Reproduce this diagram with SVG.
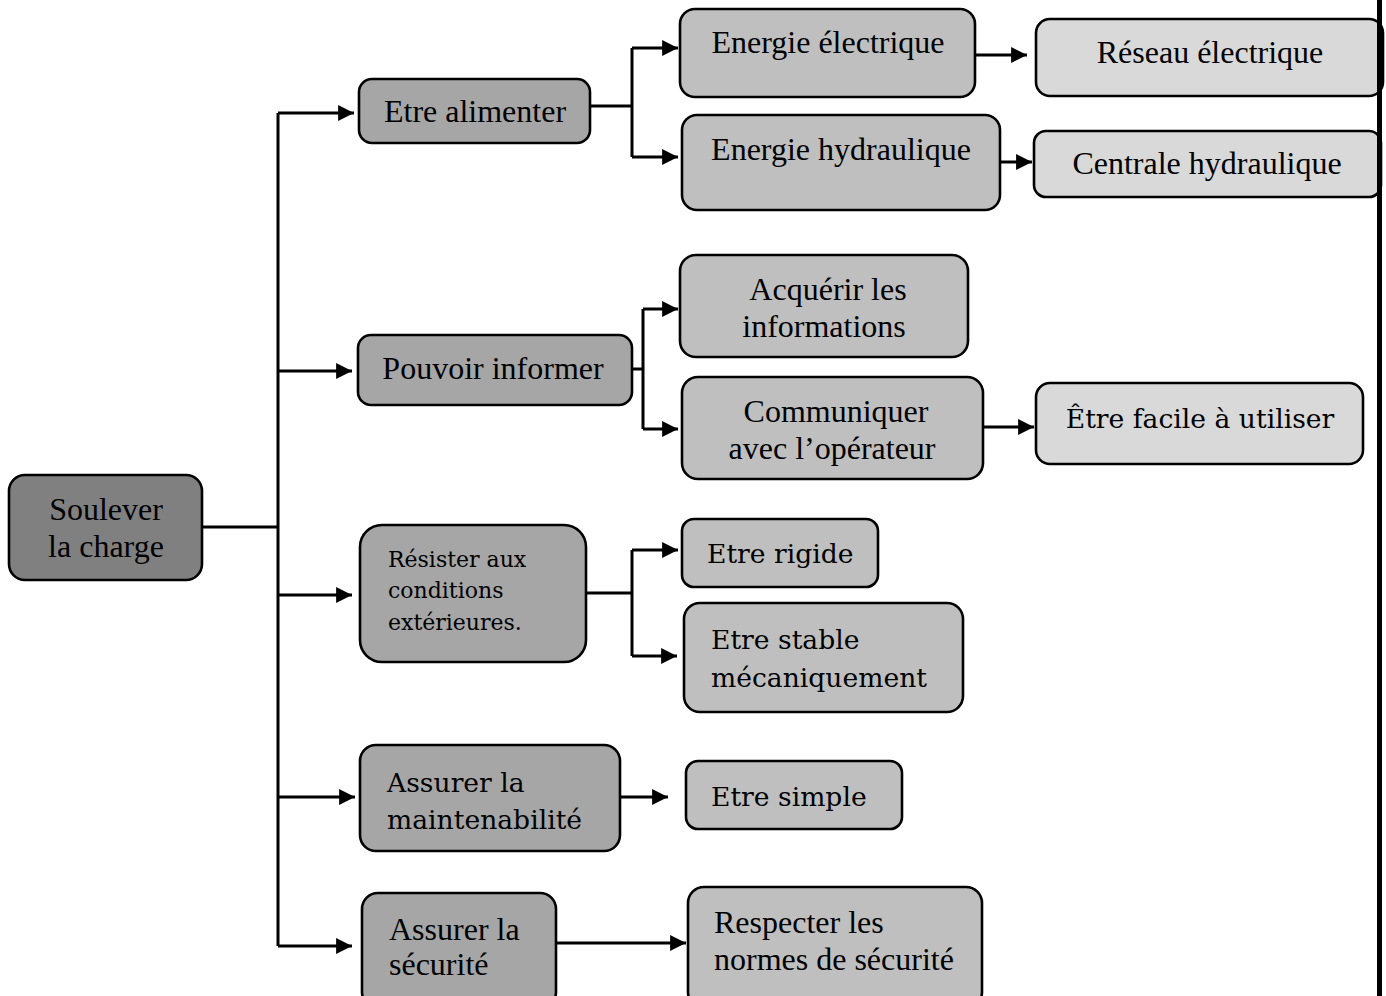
<svg xmlns="http://www.w3.org/2000/svg" width="1386" height="996" viewBox="0 0 1386 996">
  <defs>
    <marker id="arrow" viewBox="0 0 10 10" refX="10" refY="5" markerWidth="5.3" markerHeight="5.3" markerUnits="strokeWidth" orient="auto">
      <path d="M0,0 L10,5 L0,10 z" fill="#000"/>
    </marker>
    <style>
      .box { stroke: #000; stroke-width: 2.6; }
      .root { fill: #808080; }
      .l1 { fill: #a6a6a6; }
      .l2 { fill: #bfbfbf; }
      .l3 { fill: #d9d9d9; }
      .tm { font-family: "Liberation Serif", "Times New Roman", serif; font-size: 32px; fill: #000; }
      .cb { font-family: "DejaVu Serif", "Liberation Serif", serif; font-size: 26.6px; fill: #000; }
      .cbs { font-family: "DejaVu Serif", "Liberation Serif", serif; font-size: 22px; fill: #000; }
      .mid { text-anchor: middle; }
      .wire { fill: none; stroke: #000; stroke-width: 3; }
      .arr { fill: none; stroke: #000; stroke-width: 3; marker-end: url(#arrow); }
    </style>
  </defs>
  <rect width="1386" height="996" fill="#fff"/>

  <!-- connectors -->
  <g id="connectors">
    <!-- root to trunk -->
    <path class="wire" d="M202,527 H278"/>
    <path class="wire" d="M278,113 V946"/>
    <path class="arr" d="M278,113 H354"/>
    <path class="arr" d="M278,371 H352"/>
    <path class="arr" d="M278,595 H352"/>
    <path class="arr" d="M278,797 H355"/>
    <path class="arr" d="M278,946 H352"/>
    <!-- Etre alimenter -->
    <path class="wire" d="M590,106 H632 M632,48 V157"/>
    <path class="arr" d="M632,48 H678"/>
    <path class="arr" d="M632,157 H678"/>
    <path class="arr" d="M975,55 H1027"/>
    <path class="arr" d="M1000,162 H1032"/>
    <!-- Pouvoir informer -->
    <path class="wire" d="M632,369 H643 M643,309 V429"/>
    <path class="arr" d="M643,309 H678"/>
    <path class="arr" d="M643,429 H678"/>
    <path class="arr" d="M983,427 H1034"/>
    <!-- Résister -->
    <path class="wire" d="M586,593 H632 M632,550 V656"/>
    <path class="arr" d="M632,550 H678"/>
    <path class="arr" d="M632,656 H677"/>
    <!-- maintenabilité / sécurité -->
    <path class="arr" d="M620,797 H668"/>
    <path class="arr" d="M556,943 H686"/>
  </g>

  <g id="n-soulever">
    <rect class="box root" x="9" y="475" width="193" height="105" rx="16"/>
    <text class="tm mid" x="106" y="520">Soulever</text>
    <text class="tm mid" x="106" y="557">la charge</text>
  </g>

  <g id="n-alimenter">
    <rect class="box l1" x="359" y="79" width="231" height="64" rx="13"/>
    <text class="tm mid" x="475" y="122">Etre alimenter</text>
  </g>
  <g id="n-informer">
    <rect class="box l1" x="358" y="335" width="274" height="70" rx="13"/>
    <text class="tm mid" x="493" y="379">Pouvoir informer</text>
  </g>
  <g id="n-resister">
    <rect class="box l1" x="360" y="525" width="226" height="137" rx="22"/>
    <text class="cbs" x="388" y="567">Résister aux</text>
    <text class="cbs" x="388" y="598">conditions</text>
    <text class="cbs" x="388" y="630">extérieures.</text>
  </g>
  <g id="n-maintenabilite">
    <rect class="box l1" x="360" y="745" width="260" height="106" rx="16"/>
    <text class="cb" x="387" y="792">Assurer la</text>
    <text class="cb" x="387" y="829">maintenabilité</text>
  </g>
  <g id="n-securite">
    <rect class="box l1" x="362" y="893" width="194" height="115" rx="16"/>
    <text class="tm" x="389" y="940">Assurer la</text>
    <text class="tm" x="389" y="975">sécurité</text>
  </g>

  <g id="n-energie-elec">
    <rect class="box l2" x="680" y="9" width="295" height="88" rx="15"/>
    <text class="tm mid" x="828" y="53">Energie électrique</text>
  </g>
  <g id="n-energie-hydr">
    <rect class="box l2" x="682" y="115" width="318" height="95" rx="15"/>
    <text class="tm mid" x="841" y="160">Energie hydraulique</text>
  </g>
  <g id="n-acquerir">
    <rect class="box l2" x="680" y="255" width="288" height="102" rx="16"/>
    <text class="tm mid" x="828" y="300">Acquérir les</text>
    <text class="tm mid" x="824" y="337">informations</text>
  </g>
  <g id="n-communiquer">
    <rect class="box l2" x="682" y="377" width="301" height="102" rx="16"/>
    <text class="tm mid" x="836" y="422">Communiquer</text>
    <text class="tm mid" x="832" y="459">avec l’opérateur</text>
  </g>
  <g id="n-rigide">
    <rect class="box l2" x="682" y="519" width="196" height="68" rx="12"/>
    <text class="cb" x="707" y="563">Etre rigide</text>
  </g>
  <g id="n-stable">
    <rect class="box l2" x="684" y="603" width="279" height="109" rx="16"/>
    <text class="cb" x="711" y="649">Etre stable</text>
    <text class="cb" x="711" y="687">mécaniquement</text>
  </g>
  <g id="n-simple">
    <rect class="box l2" x="686" y="761" width="216" height="68" rx="12"/>
    <text class="cb" x="711" y="806">Etre simple</text>
  </g>
  <g id="n-normes">
    <rect class="box l2" x="688" y="887" width="294" height="121" rx="16"/>
    <text class="tm" x="714" y="933">Respecter les</text>
    <text class="tm" x="714" y="970">normes de sécurité</text>
  </g>

  <g id="n-reseau">
    <rect class="box l3" x="1036" y="19" width="347" height="77" rx="14"/>
    <text class="tm mid" x="1210" y="63">Réseau électrique</text>
  </g>
  <g id="n-centrale">
    <rect class="box l3" x="1034" y="131" width="347" height="66" rx="12"/>
    <text class="tm mid" x="1207" y="174">Centrale hydraulique</text>
  </g>
  <g id="n-facile">
    <rect class="box l3" x="1036" y="383" width="327" height="81" rx="14"/>
    <text class="cb mid" x="1200" y="428">Être facile à utiliser</text>
  </g>

  <!-- page margin rule -->
  <rect x="1377" y="0" width="5" height="996" fill="#000"/>
</svg>
